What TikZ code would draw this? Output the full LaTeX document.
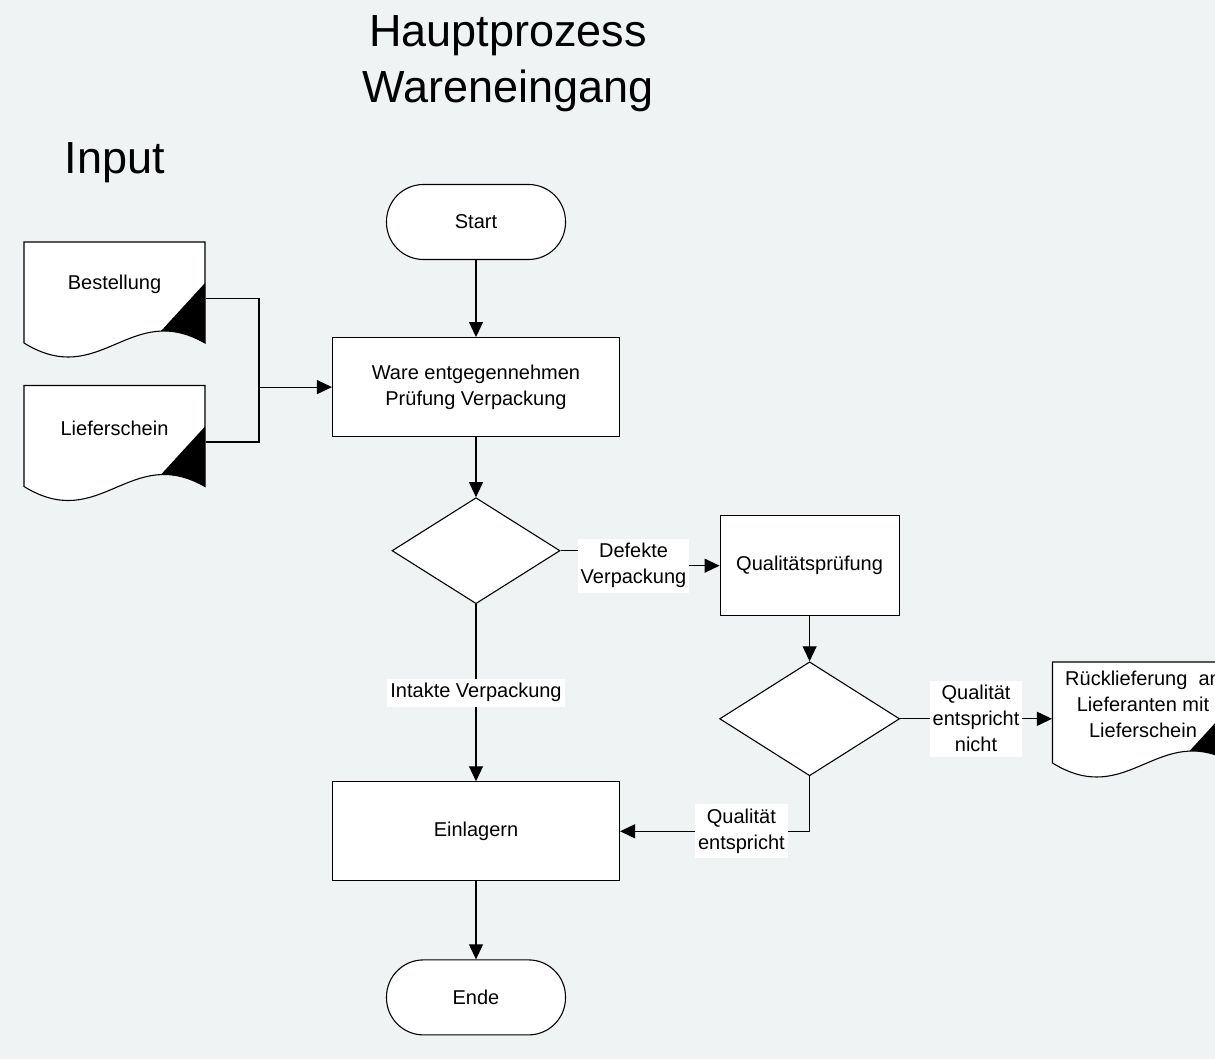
\documentclass[tikz,border=0pt]{standalone}
\usepackage{fontspec}
\setmainfont{Liberation Sans}
\usetikzlibrary{arrows.meta}
\usetikzlibrary{shapes.geometric}
\usetikzlibrary{positioning}
\definecolor{grund}{RGB}{240,243,244}

% document symbol: outline, black corner, then the named node
\newcommand{\dokument}[3]{%
  \begin{scope}[shift={(#2)}]
    \draw[fill=white] (-90.5,-50.5) -- (90.5,-50.5) -- (90.5,50.5)
      .. controls (15.5,7.5) and (-14.5,97.5) .. (-90.5,50.5) -- cycle;
    \fill (90.5,-9.5) -- (90.5,50.5)
      .. controls (74,41) and (59.5,38) .. (46.5,38.5) -- cycle;
  \end{scope}
  \node[dok] (#1) at (#2) {};
  \node[doktext] (#1-text) at ([yshift=4pt]#1.center) {#3};
}

\begin{document}
\begin{tikzpicture}[x=0.5pt,y=-0.5pt,->,>={Triangle[length=7.5pt,width=7pt]},
            line width=0.55pt,font=\fontsize{10}{13}\selectfont,
            terminal/.style={draw,fill=white,rounded corners=18.5pt,minimum width=89.5pt,minimum height=37.5pt},
            schritt/.style={draw,fill=white,align=center,minimum width=143.5pt,minimum height=49.5pt},
            raute/.style={diamond,draw,fill=white,inner sep=0pt},
            dok/.style={inner sep=0pt,minimum width=90.5pt,minimum height=50.5pt},
            doktext/.style={align=center,inner sep=0pt},
            etikett/.style={fill=white,align=center,inner xsep=1.5pt,inner ysep=2.4pt},
            gross/.style={align=center,font=\fontsize{22.5}{28}\selectfont}
            ]

            \useasboundingbox (0,0) rectangle (1215,1059);
            \fill[grund] (0,0) rectangle (1215,1059);
            \clip (0,0) rectangle (1215,1059);

            \node[gross](titel) at (508,64){Hauptprozess\\Wareneingang};
            \node[gross](input) at (115,163){Input};

            \node[terminal](start) at (476,222){Start};
            \node[schritt](ware)[below=38.5pt of start]{Ware entgegennehmen\\Prüfung Verpackung};
            \node[raute,minimum width=84pt,minimum height=53pt](raute1)[below=30pt of ware]{};
            \node[schritt](einlagern)[below=88.5pt of raute1]{Einlagern};
            \node[terminal](ende)[below=39pt of einlagern]{Ende};

            \node[schritt,minimum width=89.5pt,minimum height=50pt](pruefung)[right=79.5pt of raute1,yshift=-7.5pt]{Qualitätsprüfung};
            \node[raute,minimum width=90pt,minimum height=57pt](raute2)[below=22.5pt of pruefung]{};

            \dokument{bestellung}{114.5,292.5}{Bestellung}
            \dokument{lieferschein}{114.5,436}{Lieferschein}
            \dokument{ruecklief}{1143,712.5}{Rücklieferung\ \ an\\Lieferanten mit\\Lieferschein}

            \coordinate (knoten) at (259,0 |- ware.west);

            \draw[-] ([yshift=-3pt]bestellung.east) -| (knoten);
            \draw[-] ([yshift=-3pt]lieferschein.east) -| (knoten);
            \draw (knoten) -- (ware);

            \draw (start) -- (ware);
            \draw (ware) -- (raute1);
            \draw (raute1) -- node[etikett]{Intakte Verpackung} (einlagern);
            \draw (raute1.east) -- ++(73,0) |- node[etikett]{Defekte\\Verpackung} (pruefung.west);
            \draw (pruefung) -- (raute2);
            \draw (raute2.east) -- node[etikett]{Qualität\\entspricht\\nicht} (raute2.east -| ruecklief.west);
            \draw (raute2.south) |- node[etikett,pos=0.68]{Qualität\\entspricht} (einlagern.east);
            \draw (einlagern) -- (ende);

        \end{tikzpicture}
\end{document}
